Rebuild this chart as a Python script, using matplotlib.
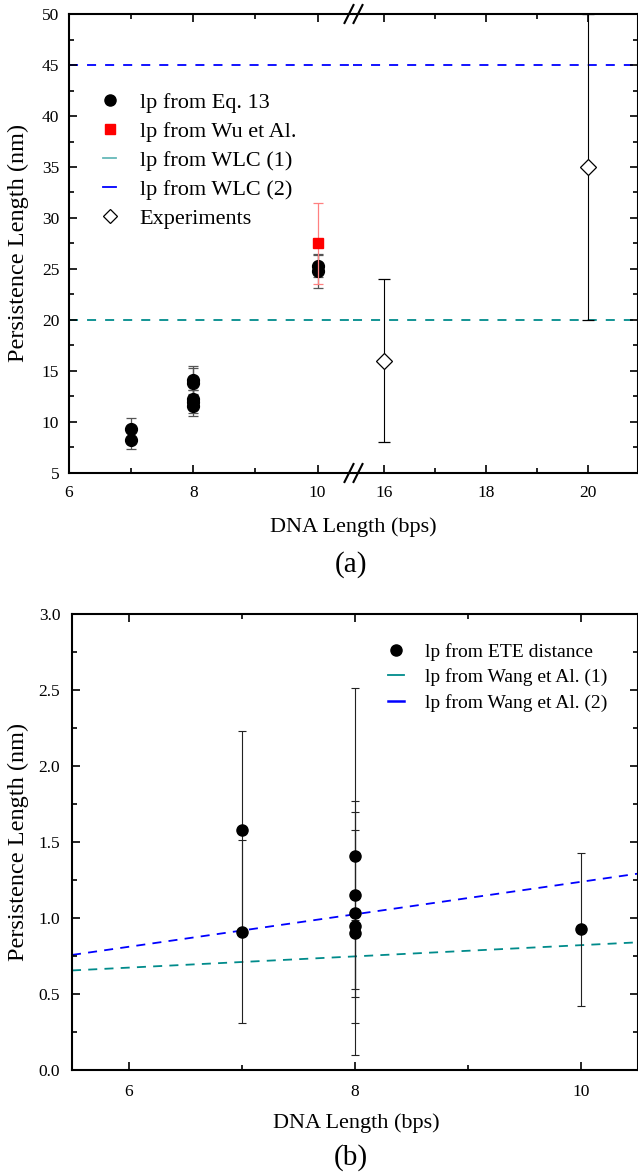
import matplotlib.pyplot as plt
from matplotlib.lines import Line2D
from matplotlib.ticker import MultipleLocator

plt.rcParams['font.family'] = ['Liberation Serif', 'DejaVu Serif']

# ---- panel (a) data ----
eq13_x = [7, 7, 8, 8, 8, 8, 8, 10, 10]
eq13_y = [9.35, 8.25, 14.1, 13.8, 12.3, 12.0, 11.6, 25.3, 24.8]
eq13_err = [1.05, 0.85, 1.4, 1.5, 0.8, 1.15, 1.0, 1.1, 1.7]

wu_x = [10]
wu_y = [27.5]
wu_err = [4.0]

wlc1_y = 20
wlc2_y = 45

exp_x = [16, 20]
exp_y = [16, 35]
exp_err = [8, 15]

# ---- panel (b) data ----
ete_x = [7, 7, 8, 8, 8, 8, 8, 10]
ete_y = [1.58, 0.91, 1.41, 1.15, 1.03, 0.95, 0.90, 0.925]
ete_err = [0.65, 0.60, 1.10, 0.62, 0.55, 0.04, 0.80, 0.505]

wang1_x = [5.5, 10.5]
wang1_y = [0.655, 0.84]
wang2_x = [5.5, 10.5]
wang2_y = [0.757, 1.292]

TEAL = '#008b8b'
BLUE = '#0000ff'

W, H = 638, 1175
fig = plt.figure(figsize=(W / 100, H / 100), dpi=100)


def rect(l, t, r, b):
    return [l / W, 1 - b / H, (r - l) / W, (b - t) / H]


def style(ax, ypad):
    ax.tick_params(which='both', direction='in', top=True, right=True,
                   labelsize=12.5, width=1.2)
    ax.tick_params(which='major', length=6)
    ax.tick_params(which='minor', length=3.5)
    ax.tick_params(axis='x', pad=8.5)
    ax.tick_params(axis='y', pad=ypad)
    for s in ax.spines.values():
        s.set_linewidth(1.5)


axL = fig.add_axes(rect(69, 14, 353, 473))
axR = fig.add_axes(rect(353, 14, 638, 473), sharey=axL)
axB = fig.add_axes(rect(72, 614, 638, 1070))

for ax in (axL, axR, axB):
    style(ax, 7)
axB.tick_params(axis='y', pad=8.5)
axB.tick_params(axis='x', pad=10)

# broken x axis for (a)
axL.spines['right'].set_visible(False)
axL.tick_params(which='both', right=False)
axR.spines['left'].set_visible(False)
axR.tick_params(which='both', left=False, labelleft=False)

axL.set_xlim(6, 10.57)
axR.set_xlim(15.4, 20.98)
axL.set_ylim(5, 50)
for ax in (axL, axR):
    ax.xaxis.set_major_locator(MultipleLocator(2))
    ax.xaxis.set_minor_locator(MultipleLocator(1))
    ax.yaxis.set_major_locator(MultipleLocator(5))
    ax.yaxis.set_minor_locator(MultipleLocator(2.5))

    ax.axhline(wlc1_y, color=TEAL, lw=1.3, dashes=(5, 5), zorder=1)
    ax.axhline(wlc2_y, color=BLUE, lw=1.3, dashes=(5, 5), zorder=1)

    ax.errorbar(eq13_x, eq13_y, yerr=eq13_err, fmt='o', color='black',
                ms=8.5, ecolor='#555555', elinewidth=0.9, capsize=3.5,
                capthick=0.9, zorder=3)
    ax.errorbar(wu_x, wu_y, yerr=wu_err, fmt='s', color='red', ms=7,
                ecolor='#ff8080', elinewidth=0.9, capsize=3.5,
                capthick=0.9, zorder=4)
    ax.errorbar(exp_x, exp_y, yerr=exp_err, fmt='D', mfc='white',
                mec='black', mew=0.9, ms=8, ecolor='black',
                elinewidth=0.8, capsize=4, capthick=0.8, zorder=3)

# break marks
for yb in (473, 14):
    for xc in (349, 358):
        fig.add_artist(Line2D([(xc - 4.5) / W, (xc + 4.5) / W],
                              [1 - (yb + 9) / H, 1 - (yb - 9) / H],
                              transform=fig.transFigure, color='black',
                              lw=1.5))

handles_a = [
    Line2D([], [], ls='none', marker='o', color='black', ms=8),
    Line2D([], [], ls='none', marker='s', color='red', ms=7),
    Line2D([], [], color=TEAL, lw=1.3, alpha=0.6),
    Line2D([], [], color=BLUE, lw=1.3),
    Line2D([], [], ls='none', marker='D', mfc='white', mec='black',
           mew=0.9, ms=7),
]
labels_a = ['lp from Eq. 13', 'lp from Wu et Al.', 'lp from WLC (1)',
            'lp from WLC (2)', 'Experiments']
axL.legend(handles_a, labels_a, loc='upper left',
           bbox_to_anchor=(103 / W, 1 - 92 / H),
           bbox_transform=fig.transFigure, frameon=False, fontsize=16,
           handlelength=0.6, handletextpad=1.05, labelspacing=0.38,
           borderpad=0, borderaxespad=0)

fig.text(353 / W, 1 - 527 / H, 'DNA Length (bps)', fontsize=16,
         ha='center', va='center')
fig.text(351 / W, 1 - 565 / H, '(a)', fontsize=21, ha='center',
         va='center')
fig.text(18 / W, 1 - 243 / H, 'Persistence Length (nm)', fontsize=17.5,
         rotation=90, ha='center', va='center')

# ---- panel (b) ----
axB.set_xlim(5.5, 10.5)
axB.set_ylim(0, 3)
axB.xaxis.set_major_locator(MultipleLocator(2))
axB.xaxis.set_minor_locator(MultipleLocator(1))
axB.yaxis.set_major_locator(MultipleLocator(0.5))
axB.yaxis.set_minor_locator(MultipleLocator(0.25))
axB.yaxis.set_major_formatter(plt.FormatStrFormatter('%.1f'))

axB.plot(wang1_x, wang1_y, color=TEAL, lw=1.3, dashes=(5, 4), zorder=1)
axB.plot(wang2_x, wang2_y, color=BLUE, lw=1.3, dashes=(5, 4), zorder=1)
axB.errorbar(ete_x, ete_y, yerr=ete_err, fmt='o', color='black', ms=8,
             ecolor='#222222', elinewidth=0.8, capsize=3, capthick=0.8,
             zorder=3)

handles_b = [
    Line2D([], [], ls='none', marker='o', color='black', ms=8),
    Line2D([], [], color=TEAL, lw=1.3),
    Line2D([], [], color=BLUE, lw=1.8),
]
labels_b = ['lp from ETE distance', 'lp from Wang et Al. (1)',
            'lp from Wang et Al. (2)']
axB.legend(handles_b, labels_b, loc='upper left',
           bbox_to_anchor=(388 / W, 1 - 643 / H),
           bbox_transform=fig.transFigure, frameon=False, fontsize=14,
           handlelength=0.8, handletextpad=1.1, labelspacing=0.38,
           borderpad=0, borderaxespad=0)

fig.text(356 / W, 1 - 1123 / H, 'DNA Length (bps)', fontsize=16,
         ha='center', va='center')
fig.text(351 / W, 1 - 1158 / H, '(b)', fontsize=21, ha='center',
         va='center')
fig.text(18 / W, 1 - 842 / H, 'Persistence Length (nm)', fontsize=17.5,
         rotation=90, ha='center', va='center')

fig.savefig('out.png', dpi=100)
